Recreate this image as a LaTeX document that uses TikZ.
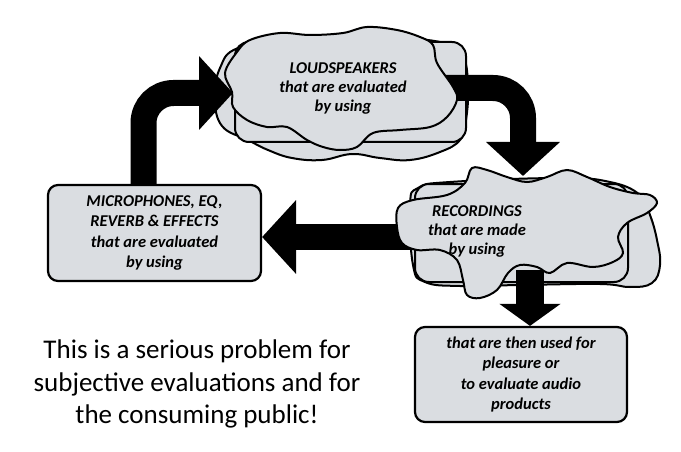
\documentclass[tikz,border=0pt]{standalone}
\usepackage{fontspec}
\setmainfont{Carlito}
\usetikzlibrary{arrows.meta,shapes.misc}
\definecolor{boxgray}{RGB}{218,221,225}
\tikzset{
  rbox/.style={draw=black, line width=2.2pt, fill=boxgray, rounded corners=10pt, align=center,
    font=\bfseries\itshape\fontsize{16.5}{20.5}\selectfont, inner sep=0pt},
  cloudpart/.style={draw=black, line width=2pt, fill=boxgray},
  cloudtext/.style={align=center, font=\bfseries\itshape\fontsize{16.5}{19}\selectfont, inner sep=0pt},
  bigarrow/.style={line width=26pt, draw=black, -{Triangle[width=72pt,length=34pt]}},
  smallarrow/.style={line width=28pt, draw=black, -{Triangle[width=60pt,length=22pt]}},
}
\begin{document}
\begin{tikzpicture}[x=1pt,y=-1pt]
\useasboundingbox (0,0) rectangle (681,452);

% ---------- boxes ----------
\node[rbox, minimum width=213pt, minimum height=96pt] (mic) at (154.5,233)
  {MICROPHONES, EQ,\\REVERB \& EFFECTS\\that are evaluated\\by using};
\node[rbox, minimum width=212pt, minimum height=95pt] (bot) at (521,374.5)
  {that are then used for\\pleasure or\\to evaluate audio\\products};

% ---------- back layers of clouds ----------
\draw[cloudpart] plot[smooth cycle, tension=0.7] coordinates {
 (215,98) (220,68) (238,48) (290,40) (380,38) (440,42) (462,55) (468,85) (466,120)
 (460,140) (440,152) (410,160) (380,158) (352,154) (322,160) (292,158) (268,150)
 (248,140) (222,126)};
\draw[cloudpart, rounded corners=14pt] (235,42) rectangle (466,142);

\draw[cloudpart] plot[smooth cycle, tension=0.7] coordinates {
 (410,205) (418,188) (450,182) (560,178) (610,182) (640,195) (650,215) (657,240)
 (660,265) (652,283) (630,287) (600,284) (520,285) (460,286) (425,282) (413,265)};
\draw[cloudpart, rounded corners=14pt] (415,184) rectangle (628,282);

% ---------- named anchor points on clouds ----------
\coordinate (lsL) at (233,93);
\coordinate (lsR) at (445,88);
\coordinate (recT) at (523,176);
\coordinate (recL) at (410,237);
\coordinate (recB) at (530,270);

% ---------- arrows ----------
\draw[bigarrow, rounded corners=30pt] ([xshift=-11pt]mic.north) |- (lsL);
\draw[bigarrow, rounded corners=30pt] (lsR) -| (recT);
\draw[bigarrow] (recL) -- (recL -| mic.east);
\draw[smallarrow] (recB) -- (recB |- bot.north);

% ---------- front blobs ----------
\draw[cloudpart] plot[smooth cycle, tension=0.6] coordinates {
 (232,92) (225,73) (237,52) (250,40) (280,33) (310,35) (343,33) (367,27) (397,30)
 (420,37) (433,45) (437,63) (453,87) (457,100) (447,117) (430,127) (400,130) (373,133)
 (357,147) (340,150) (323,147) (307,140) (287,127) (267,127) (247,120) (233,107)};
\draw[cloudpart] plot[smooth cycle, tension=0.6] coordinates {
 (398,208) (413,200) (447,195) (465,183) (472,168) (487,170) (507,177) (527,182)
 (547,177) (567,170) (587,177) (610,187) (633,193) (650,195) (657,203) (647,213)
 (627,223) (618,237) (623,253) (613,262) (593,267) (567,263) (550,273) (537,267)
 (520,265) (508,273) (497,290) (480,298) (467,295) (463,280) (457,260) (440,250)
 (417,250) (402,243) (397,227)};

% ---------- cloud texts ----------
\node[cloudtext] (ls) at (343,88) {LOUDSPEAKERS\\that are evaluated\\by using};
\node[cloudtext] (rec) at (477,231) {RECORDINGS\\that are made\\by using};

% ---------- statement ----------
\node[align=center, font=\fontsize{27}{32.5}\selectfont, inner sep=0pt] (note) at (197,384)
  {This is a serious problem for\\subjective evaluations and for\\the consuming public!};
\end{tikzpicture}
\end{document}
